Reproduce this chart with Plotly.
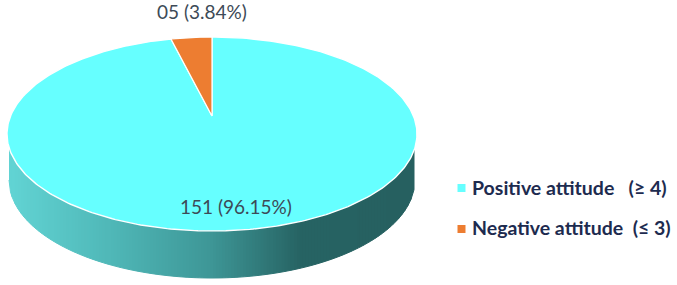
import numpy as np
import plotly.graph_objects as go

categories = ["Positive attitude   (≥ 4)", "Negative attitude  (≤ 3)"]
counts = [151, 5]
slice_labels = ["151 (96.15%)", "05 (3.84%)"]
colors = ["#66FFFF", "#ED7D31"]

W, H = 677, 285
CX, CY, RX, RY = 212, 134, 205, 97
APEX_Y = 116
BCX, BCY, BRX, BRY = 212, 180, 203, 98
TEXT = "#3d4a57"
NAVY = "#1d2b4f"


def lerp(stops, x):
    xs = [s[0] for s in stops]
    return "rgb(%d,%d,%d)" % tuple(
        np.interp(x, xs, [s[1][i] for s in stops]) for i in range(3)
    )


fig = go.Figure()

# side wall, shaded in narrow vertical strips
wall_stops = [(10, (98, 212, 212)), (110, (80, 184, 184)), (212, (62, 150, 150)),
              (300, (39, 100, 100)), (416, (38, 96, 96))]
edges = np.arange(9, 416, 3.0)
for a, b in zip(edges[:-1], edges[1:]):
    xs = np.linspace(a, b, 3)
    u_top = np.clip((xs - CX) / RX, -1, 1)
    top = CY + RY * np.sqrt(1 - u_top ** 2) - 3
    u_bot = np.clip((xs - BCX) / BRX, -1, 1)
    bot = BCY + BRY * np.sqrt(1 - u_bot ** 2)
    bot = np.maximum(bot, top)
    col = lerp(wall_stops, (a + b) / 2)
    fig.add_trace(go.Scatter(
        x=np.r_[xs, xs[::-1]], y=np.r_[top, bot[::-1]], mode="lines", fill="toself",
        fillcolor=col, line=dict(color=col, width=1), hoverinfo="skip", showlegend=False))

# top face, slices computed from the counts
frac = counts[1] / sum(counts)


def wedge(t0, t1):
    t = np.radians(np.linspace(t0, t1, 361))
    return np.r_[CX, CX + RX * np.sin(t), CX], np.r_[APEX_Y, CY - RY * np.cos(t), APEX_Y]


x, y = wedge(0, 360 * (1 - frac))
fig.add_trace(go.Scatter(x=x, y=y, mode="lines", fill="toself", fillcolor=colors[0],
                         line=dict(color="white", width=1.4), name=categories[0], showlegend=False))
x, y = wedge(360 * (1 - frac), 360)
fig.add_trace(go.Scatter(x=x, y=y, mode="lines", fill="toself", fillcolor=colors[1],
                         line=dict(color="white", width=1.2), name=categories[1], showlegend=False))

# slice labels
fig.add_trace(go.Scatter(x=[236, 202], y=[209, 14], mode="text", text=slice_labels,
                         textposition="middle center", showlegend=False, cliponaxis=False,
                         textfont=dict(family="Lato", size=19, color=TEXT)))

# legend
fig.add_trace(go.Scatter(x=[461.5, 461.5], y=[188, 229], mode="markers",
                         marker=dict(symbol="square", size=8, color=colors), showlegend=False))
fig.add_trace(go.Scatter(x=[472, 472], y=[190, 230], mode="text", text=["<b>%s</b>" % c for c in categories],
                         textposition="middle right", showlegend=False, cliponaxis=False,
                         textfont=dict(family="Lato", size=19.5, color=NAVY)))

fig.update_layout(
    width=W, height=H, margin=dict(l=0, r=0, t=0, b=0),
    paper_bgcolor="white", plot_bgcolor="white",
    xaxis=dict(range=[0, W], visible=False, fixedrange=True),
    yaxis=dict(range=[H, 0], visible=False, fixedrange=True),
)
fig.write_html("out.html", config=dict(displayModeBar=False),
               post_script="document.body.style.margin='0';document.body.style.overflow='hidden';")
